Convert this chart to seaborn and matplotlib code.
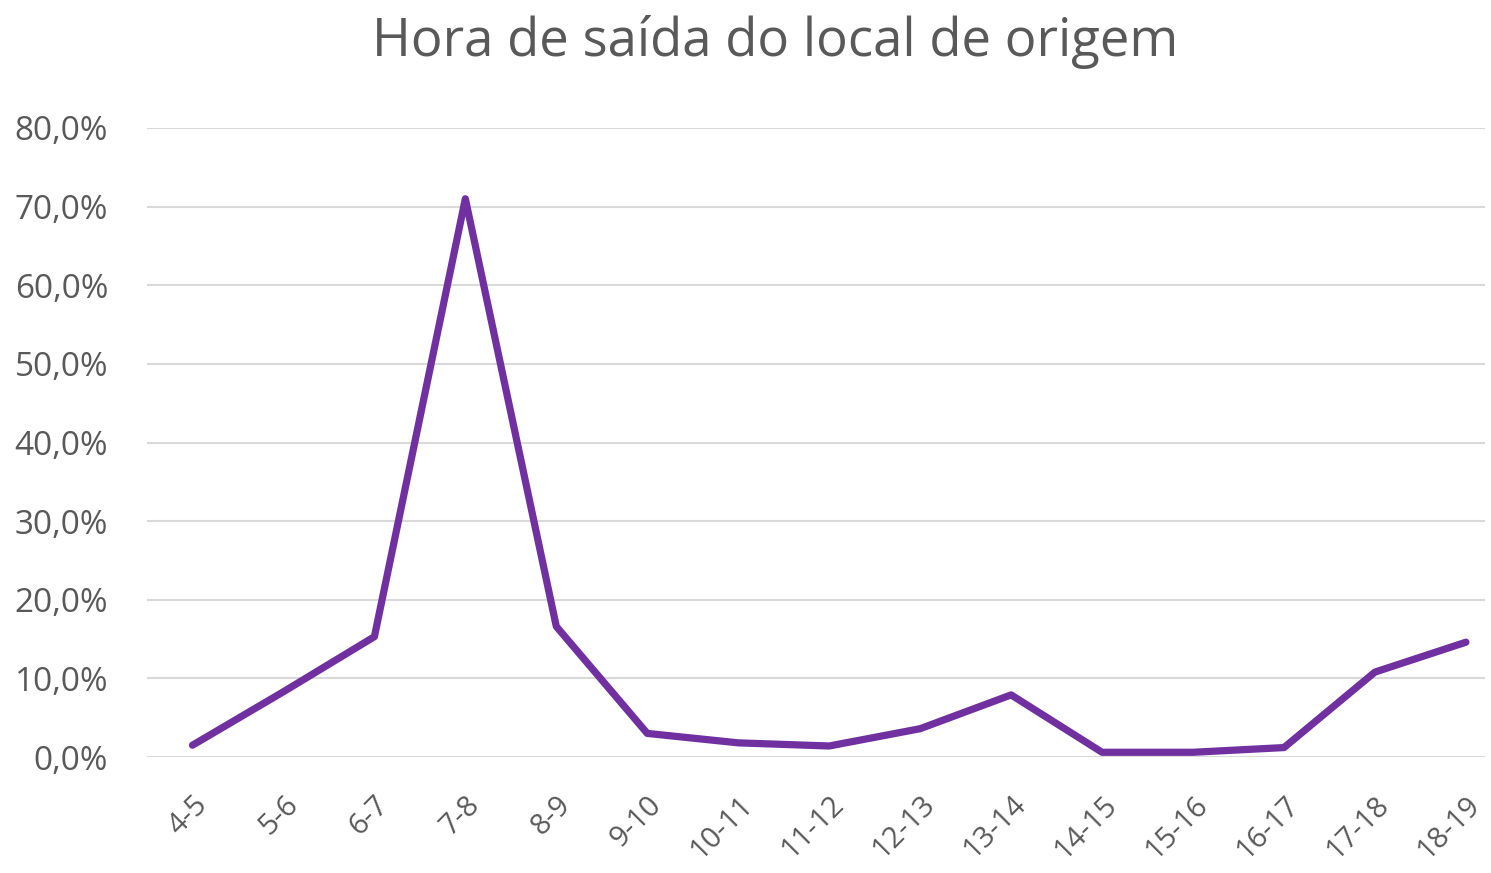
import pandas as pd
import seaborn as sns
import matplotlib.pyplot as plt

# dados (percentual)
horas = ["4-5", "5-6", "6-7", "7-8", "8-9", "9-10", "10-11", "11-12",
         "12-13", "13-14", "14-15", "15-16", "16-17", "17-18", "18-19"]
percentual = [1.5, 8.3, 15.3, 71.0, 16.6, 3.0, 1.8, 1.4,
              3.6, 7.9, 0.6, 0.6, 1.2, 10.8, 14.6]
y_ticks = [0, 10, 20, 30, 40, 50, 60, 70, 80]

df = pd.DataFrame({"Hora": horas, "Percentual": percentual})

sns.set_style("white")
plt.rcParams['font.family'] = ['Open Sans', 'DejaVu Sans']
cinza = "#595959"

fig = plt.figure(figsize=(14.91, 8.73), dpi=100)
ax = fig.add_axes([147 / 1491, 1 - 757 / 873, (1485 - 147) / 1491, (757 - 128) / 873])

sns.lineplot(data=df, x="Hora", y="Percentual", color="#7030A0", linewidth=5.2, ax=ax)

ax.set_xlim(-0.5, 14.21)
ax.set_ylim(0, 80)
ax.set_yticks(y_ticks)
ax.set_yticklabels([f"{v:.1f}%".replace(".", ",") for v in y_ticks], fontsize=24, color=cinza)
ax.yaxis.grid(True, color="#D9D9D9", linewidth=1.5)
ax.set_axisbelow(True)
for s in ax.spines.values():
    s.set_visible(False)
ax.tick_params(axis="both", length=0)
ax.tick_params(axis="y", pad=28)

ax.set_xticks(range(len(horas)))
ax.set_xticklabels(horas, rotation=45, ha="right", va="top", rotation_mode="anchor",
                   fontsize=21, color=cinza)
ax.tick_params(axis="x", pad=24)
ax.set_xlabel("")
ax.set_ylabel("")

fig.text(775 / 1491, 1 - 42 / 873, "Hora de saída do local de origem",
         ha="center", va="center", fontsize=38, color=cinza)

fig.savefig("out.png", dpi=100)
